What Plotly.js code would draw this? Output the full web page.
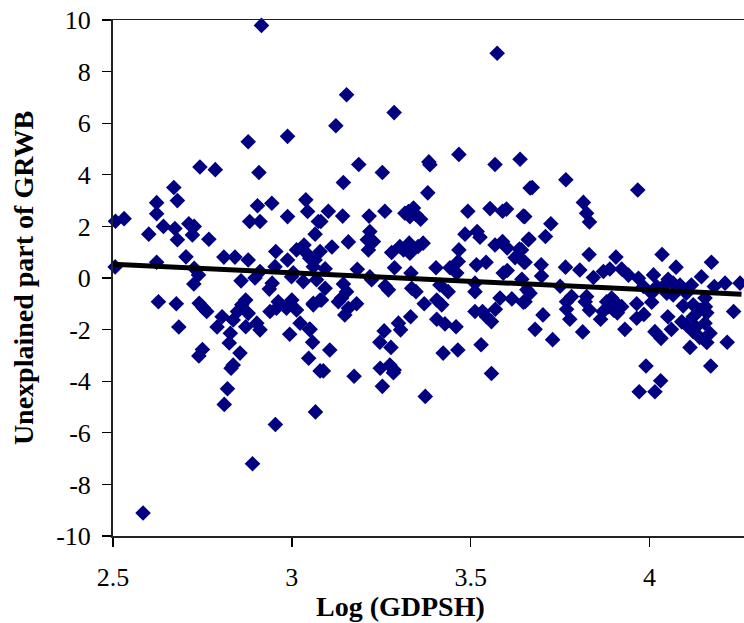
<!DOCTYPE html>
<html><head><meta charset="utf-8">
<script src="https://cdn.plot.ly/plotly-3.0.1.min.js"></script>
<style>html,body{margin:0;padding:0;background:#fff}#c{width:744px;height:623px}</style>
</head><body><div id="c"></div>
<script>
const logGdpsh = [
2.915,2.988,2.878,2.743,2.786,2.908,2.67,2.68,2.622,3.039,3.044,2.944,2.904,2.988,2.622,2.531,2.507,2.882,2.911,2.641,2.673,2.712,2.727,2.722,2.6,2.68,2.768,3.065,3.074,2.704,2.81,2.841,2.878,2.622,2.506,2.955,2.988,3.013,3.034,2.953,3.06,3.079,2.727,2.739,2.911,3.041,3.05,3.004,
2.858,2.897,2.726,2.945,2.937,2.627,2.677,2.741,2.752,2.762,2.684,2.805,2.791,2.836,2.848,2.871,2.86,2.878,2.871,2.902,2.911,2.828,2.825,2.75,2.74,2.855,2.836,2.83,2.82,2.811,2.954,2.89,2.584,3.066,2.939,2.962,2.957,3.0,2.985,3.013,3.023,3.049,2.994,3.058,3.047,3.079,3.06,3.079,3.032,2.999,3.069,
3.574,3.153,3.286,3.123,3.467,3.638,3.568,3.187,3.253,3.144,3.383,3.386,3.38,3.666,3.26,3.102,3.142,3.216,3.081,3.326,3.34,3.33,3.347,3.36,3.316,3.492,3.554,3.589,3.6,3.647,3.484,3.518,3.526,3.661,3.218,3.211,3.228,3.214,3.158,3.112,3.279,3.302,3.328,3.33,3.312,3.367,3.353,3.467,3.465,3.442,3.403,3.461,3.516,3.543,3.568,3.589,3.602,3.636,3.624,3.649,3.602,3.591,3.287,3.183,3.093,3.065,3.333,3.218,
3.643,3.512,3.512,3.437,3.414,3.335,3.347,3.261,3.27,3.223,3.144,3.093,3.153,3.139,3.181,3.158,3.148,3.13,3.083,3.06,3.106,3.051,3.088,3.174,3.332,3.298,3.304,3.258,3.246,3.277,3.247,3.274,3.286,3.284,3.253,3.373,3.37,3.405,3.419,3.405,3.428,3.459,3.423,3.464,3.529,3.558,3.512,3.533,3.544,3.558,3.569,3.582,3.615,3.647,3.666,
3.766,3.672,3.967,3.815,3.824,3.832,3.651,3.724,3.709,3.663,3.642,3.652,3.831,3.906,4.035,4.173,4.074,3.697,3.765,3.805,3.698,4.145,3.75,3.843,3.871,3.889,3.922,3.941,3.969,4.011,4.052,4.085,4.117,4.181,4.211,4.253,3.657,3.652,3.782,3.768,3.768,3.777,3.824,3.82,3.832,3.863,3.702,3.68,3.729,3.813,3.931,3.88,3.894,3.903,3.885,3.903,3.922,3.964,4.006,3.964,3.984,4.051,4.015,4.032,4.061,4.094,4.122,4.156,4.141,4.122,4.103,4.122,4.155,4.169,4.16,4.113,4.217,4.235,4.171,3.99,4.031,4.015,3.971,4.155,4.048,4.066,4.02,4.006,4.103,4.066,4.038,3.983,
4.13,4.09,4.16,4.14,3.9,3.87,3.91
];
const unexplainedGrwb = [
9.79,5.49,5.28,4.30,4.20,4.09,3.51,3.0,2.92,3.03,2.58,2.9,2.8,2.38,2.49,2.3,2.2,2.19,2.19,2.0,1.92,2.1,2.0,1.67,1.7,1.48,1.5,1.7,2.19,0.82,0.81,0.81,0.7,0.61,0.43,1.03,0.7,1.09,1.28,0.44,0.44,1.03,0.38,0.12,0.25,0.96,0.77,0.2,
-0.11,0,-0.23,-0.2,-0.43,-0.92,-1.0,-0.98,-1.15,-1.3,-1.9,-1.5,-1.9,-1.63,-1.3,-0.85,-1.04,-1.37,-1.89,-1.75,-2.01,-2.14,-2.52,-2.77,-3.02,-2.91,-3.37,-3.5,-4.29,-4.9,-5.68,-7.2,-9.11,-5.19,-1.3,-0.92,-1.17,-0.85,-1.17,-1.24,-1.75,-1.99,-2.18,-2.49,-3.11,-3.6,-0.98,-0.85,-0.14,0.05,-0.07,
8.71,7.1,6.41,5.9,4.79,4.6,4.4,4.4,4.09,3.7,4.5,4.39,3.3,3.49,2.59,2.59,2.4,2.4,2.19,2.58,2.71,2.38,2.45,2.28,2.51,2.59,2.69,2.59,2.67,2.4,1.7,1.8,1.58,1.48,1.8,1.48,1.41,1.09,1.4,1.2,0.99,1.22,1.35,0.96,1.09,1.35,1.22,1.09,0.64,0.4,0.4,0.19,0.51,0.61,1.28,1.41,1.16,1.12,0.79,0.61,0.29,0.19,0.4,0.34,0.36,0.7,0.19,0.05,
-0.05,-0.2,-0.53,-0.53,-0.27,-0.4,-0.53,-0.31,-0.46,-0.07,-0.23,-0.4,-0.53,-0.78,-1.0,-1.17,-1.43,-0.92,-0.85,-1.04,-2.79,-1.99,-3.6,-3.81,-1.5,-1.75,-2.01,-2.05,-2.49,-2.69,-3.5,-3.37,-3.57,-3.67,-4.2,-4.59,-1.0,-0.85,-1.04,-1.6,-1.78,-1.89,-2.91,-2.79,-2.59,-3.7,-1.3,-1.3,-1.5,-1.69,-1.21,-0.78,-0.81,-0.94,-0.59,
3.81,3.51,3.41,2.93,2.51,2.17,2.38,2.1,1.61,1.51,1.09,0.61,0.91,0.81,0.91,0.61,0.42,0.51,0.42,0.31,0.08,0.05,-0.32,0.02,0.25,0.35,0.35,0.11,-0.01,0.12,-0.05,-0.27,-0.27,-0.33,-0.2,-0.2,-0.46,-0.92,-0.72,-0.92,-1.21,-1.6,-0.72,-0.92,-1.24,-1.6,-1.43,-1.99,-2.39,-2.09,-1.99,-0.92,-0.78,-0.92,-1.11,-1.24,-1.11,-1.0,-0.94,-1.56,-1.41,-1.5,-2.08,-2.34,-1.99,-1.08,-1.04,-1.11,-1.24,-1.5,-1.82,-2.08,-1.75,-2.14,-2.5,-2.69,-2.49,-1.3,-3.41,-3.41,-3.98,-4.41,-4.41,-0.78,-0.59,-0.66,-0.33,-0.59,-0.59,-0.2,-0.33,-0.33,
-1.9,-1.7,-1.35,-2.3,-1.25,-1.3,-1.35
];
const trendX = [2.5, 4.257];
const trendY = [0.535, -0.63];
const xTicks = [2.5, 3, 3.5, 4];
const xTickLabels = ["2.5", "3", "3.5", "4"];
const yTicks = [-10,-8,-6,-4,-2,0,2,4,6,8,10];
const yTickLabels = ["-10","-8","-6","-4","-2","0","2","4","6","8","10"];
const serif = 'Liberation Serif';

Plotly.newPlot('c', [
  {type:'scatter', mode:'markers', x:logGdpsh, y:unexplainedGrwb, cliponaxis:false,
   marker:{symbol:'diamond', size:12, color:'#000080', line:{width:0}}},
  {type:'scatter', mode:'lines', x:trendX, y:trendY, cliponaxis:false,
   line:{color:'#000', width:5}}
], {
  width:744, height:623, showlegend:false, paper_bgcolor:'#fff', plot_bgcolor:'#fff',
  margin:{l:113, r:0, t:20, b:87, pad:0},
  font:{family:serif, color:'#000', size:26},
  xaxis:{range:[2.5,4.264], autorange:false, tickmode:'array', tickvals:xTicks, ticktext:xTickLabels,
    ticks:'outside', ticklen:9, tickwidth:1.3, tickcolor:'#000', showgrid:false, zeroline:false,
    showline:true, linecolor:'#222', linewidth:1.5, mirror:true, ticklabelstandoff:8,
    tickfont:{family:serif,size:26,color:'#000'}},
  yaxis:{range:[-10,10], autorange:false, tickmode:'array', tickvals:yTicks, ticktext:yTickLabels,
    ticks:'outside', ticklen:9, tickwidth:1.3, tickcolor:'#000', showgrid:false, zeroline:false,
    showline:true, linecolor:'#222', linewidth:2, ticklabelstandoff:6,
    tickfont:{family:serif,size:26,color:'#000'},
    title:{text:'<b>Unexplained part of GRWB</b>', font:{family:serif,size:28,color:'#000'}, standoff:14}},
  annotations:[{text:'<b>Log (GDPSH)</b>', xref:'paper', yref:'paper', x:0.4564, y:0, xanchor:'center', yanchor:'middle',
    yshift:-70, showarrow:false, font:{family:serif,size:28,color:'#000'}}]
}, {displayModeBar:false, staticPlot:true});
</script></body></html>
